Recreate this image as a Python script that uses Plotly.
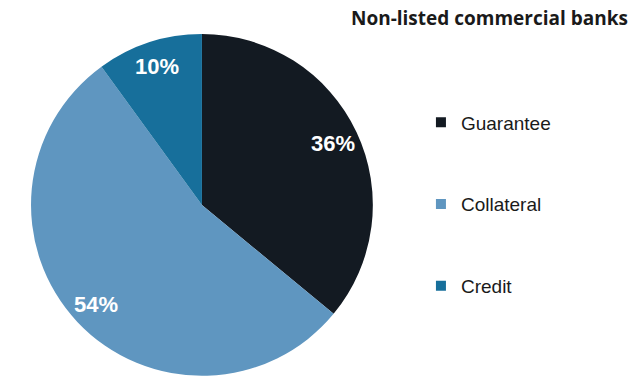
import math
import plotly.graph_objects as go

labels = ["Guarantee", "Collateral", "Credit"]
shares = [36, 54, 10]
colors = ["#131a22", "#5f96c0", "#176f9b"]

W, H = 633, 376
dom_x = [0.049, 0.589]
dom_y = [0.0, 0.91]

fig = go.Figure()

fig.add_trace(go.Pie(
    labels=labels,
    values=shares,
    sort=False,
    direction="clockwise",
    rotation=0,
    marker=dict(colors=colors, line=dict(width=0)),
    textinfo="none",
    showlegend=False,
    domain=dict(x=dom_x, y=dom_y),
    hoverinfo="label+percent",
))

# percentage labels placed along each slice's mid-angle, towards the rim
cx = (dom_x[0] + dom_x[1]) / 2 * W
cy = H - (dom_y[0] + dom_y[1]) / 2 * H
radius = min((dom_x[1] - dom_x[0]) * W, (dom_y[1] - dom_y[0]) * H) / 2
total = sum(shares)
start = 0.0
for v in shares:
    mid = (start + v / 2) / total * 2 * math.pi
    start += v
    px = cx + 0.85 * radius * math.sin(mid)
    py = cy - 0.85 * radius * math.cos(mid)
    fig.add_annotation(
        x=px / W, y=1 - py / H, xref="paper", yref="paper",
        xanchor="center", yanchor="middle",
        text=f"<b>{v}%</b>", showarrow=False,
        font=dict(family="Liberation Sans", size=22, color="white"),
    )

# legend entries as square markers, one group each for wide spacing
for i, (lab, col) in enumerate(zip(labels, colors)):
    fig.add_trace(go.Scatter(
        x=[None], y=[None], mode="markers", name=lab,
        marker=dict(symbol="square", size=10, color=col),
        legendgroup=f"g{i}", showlegend=True,
    ))

fig.update_layout(
    width=W, height=H,
    margin=dict(l=0, r=0, t=0, b=0),
    paper_bgcolor="white", plot_bgcolor="white",
    xaxis=dict(visible=False), yaxis=dict(visible=False),
    title=dict(text="<b>Non-listed commercial banks</b>", x=0.992, xanchor="right",
               y=0.952, yanchor="middle",
               font=dict(family="Open Sans", size=19, color="#1a1a1a")),
    legend=dict(x=0.665, y=0.725, xanchor="left", yanchor="top",
                tracegroupgap=54, itemwidth=30,
                font=dict(family="Liberation Sans", size=19, color="#1a1a1a"),
                bgcolor="rgba(0,0,0,0)"),
)

fig.write_html("out.html")
